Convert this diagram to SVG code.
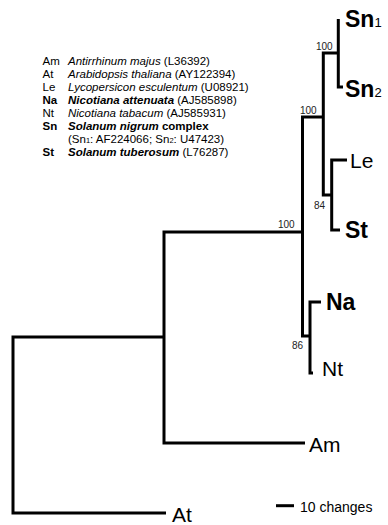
<svg xmlns="http://www.w3.org/2000/svg" width="388" height="525" viewBox="0 0 388 525">
<style>
.br{fill:none;stroke:#000;stroke-width:3;stroke-linejoin:miter;stroke-linecap:butt}
.lf{font-family:"Liberation Sans",Arial,sans-serif;font-size:21px;fill:#000}
.lb{font-family:"Liberation Sans",Arial,sans-serif;font-size:23px;font-weight:bold;fill:#000}
.sub{font-size:13px;font-weight:normal}
.bs{font-family:"Liberation Sans",Arial,sans-serif;font-size:10px;fill:#222}
.lg{font-family:"Liberation Sans",Arial,sans-serif;font-size:11.5px;fill:#000}
.it{font-style:italic}
.b{font-weight:bold}
.ls{font-size:7.5px}
</style>
<rect width="388" height="525" fill="#fff"/>
<g id="legend" class="lg">
<text x="42.5" y="65">Am</text><text x="68" y="65"><tspan class="it">Antirrhinum majus</tspan> (L36392)</text>
<text x="42.5" y="78">At</text><text x="68" y="78"><tspan class="it">Arabidopsis thaliana</tspan> (AY122394)</text>
<text x="42.5" y="90.5">Le</text><text x="68" y="90.5"><tspan class="it">Lycopersicon esculentum</tspan> (U08921)</text>
<text x="42.5" y="103.5" class="b">Na</text><text x="68" y="103.5"><tspan class="it b">Nicotiana attenuata</tspan> (AJ585898)</text>
<text x="42.5" y="117">Nt</text><text x="68" y="117"><tspan class="it">Nicotiana tabacum</tspan> (AJ585931)</text>
<text x="42.5" y="130" class="b">Sn</text><text x="68" y="130" class="b"><tspan class="it">Solanum nigrum</tspan> complex</text>
<text x="68" y="142.5">(Sn<tspan class="ls">1</tspan>: AF224066; Sn<tspan class="ls">2</tspan>: U47423)</text>
<text x="42.5" y="156" class="b">St</text><text x="68" y="156"><tspan class="it b">Solanum tuberosum</tspan> (L76287)</text>
</g>
<g id="connectors" class="br">
<path d="M165 337 H13 V513 H166"/>
<path d="M302.5 232 H164 V443 H305"/>
<path d="M323.3 117 H302.5 V336 H310"/>
<path d="M321 302 H310 V373 H313"/>
<path d="M338.3 53 H323.3 V195 H331.7"/>
<path d="M338.3 19 V87 H343"/>
<path d="M347 160 H331.7 V230 H340"/>
</g>
<g id="node-Sn1"><text class="lb" x="345" y="26.5">Sn<tspan class="sub">1</tspan></text></g>
<g id="node-Sn2"><text class="lb" x="345" y="97">Sn<tspan class="sub">2</tspan></text></g>
<g id="node-Le"><text class="lf" x="350" y="168">Le</text></g>
<g id="node-St"><text class="lb" x="345" y="238">St</text></g>
<g id="node-Na"><text class="lb" x="326" y="310">Na</text></g>
<g id="node-Nt"><text class="lf" x="322" y="376">Nt</text></g>
<g id="node-Am"><text class="lf" x="309" y="452">Am</text></g>
<g id="node-At"><text class="lf" x="172" y="522">At</text></g>
<g id="bootstrap" class="bs">
<text x="316" y="50">100</text>
<text x="300" y="114">100</text>
<text x="278" y="228">100</text>
<text x="314" y="209">84</text>
<text x="292" y="349">86</text>
</g>
<g id="scale">
<path class="br" d="M276 505.7 H294"/>
<text x="300" y="512" font-family="Liberation Sans,Arial,sans-serif" font-size="14px">10 changes</text>
</g>
</svg>
